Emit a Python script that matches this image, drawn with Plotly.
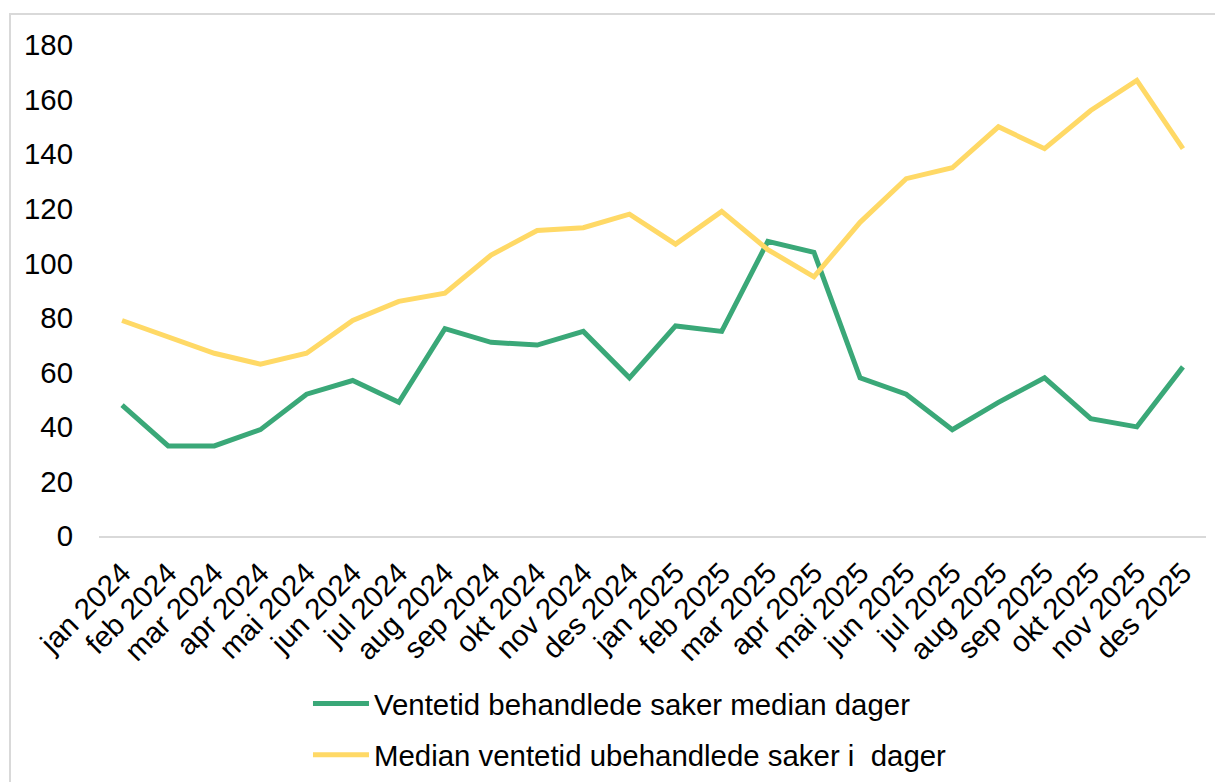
import plotly.graph_objects as go

months = [
    "jan 2024", "feb 2024", "mar 2024", "apr 2024", "mai 2024", "jun 2024",
    "jul 2024", "aug 2024", "sep 2024", "okt 2024", "nov 2024", "des 2024",
    "jan 2025", "feb 2025", "mar 2025", "apr 2025", "mai 2025", "jun 2025",
    "jul 2025", "aug 2025", "sep 2025", "okt 2025", "nov 2025", "des 2025",
]
behandlede = [48, 33, 33, 39, 52, 57, 49, 76, 71, 70, 75, 58,
              77, 75, 108, 104, 58, 52, 39, 49, 58, 43, 40, 62]
ubehandlede = [79, 73, 67, 63, 67, 79, 86, 89, 103, 112, 113, 118,
               107, 119, 105, 95, 115, 131, 135, 150, 142, 156, 167, 142]
y_ticks = [0, 20, 40, 60, 80, 100, 120, 140, 160, 180]

FONT = "Liberation Sans, Arial, sans-serif"
FS = 29.4

fig = go.Figure()
fig.add_trace(go.Scatter(
    x=months, y=behandlede, mode="lines",
    name="Ventetid behandlede saker median dager",
    line=dict(color="#3AA878", width=5),
    legendgroup="a",
))
fig.add_trace(go.Scatter(
    x=months, y=ubehandlede, mode="lines",
    name="Median ventetid ubehandlede saker i  dager",
    line=dict(color="#FFD966", width=5),
    legendgroup="b",
))

# light frame around the whole chart, as in the spreadsheet export
fig.add_shape(
    type="rect", xref="paper", yref="paper",
    x0=-0.0804, x1=1.03, y0=-0.7, y1=1.0631,
    line=dict(color="#d9d9d9", width=2), layer="below",
)

# page body has an 8px margin, so the figure is sized to fill the rest
fig.update_layout(
    width=1215, height=774,
    paper_bgcolor="white", plot_bgcolor="white",
    margin=dict(l=91, r=17, t=37, b=246, autoexpand=False),
    font=dict(family=FONT, size=FS, color="black"),
    showlegend=True,
    legend=dict(
        xref="container", yref="container",
        x=0.2469, y=0.1344, xanchor="left", yanchor="top",
        orientation="v", tracegroupgap=10, itemwidth=56,
        font=dict(size=FS, color="black"),
        bgcolor="rgba(0,0,0,0)",
    ),
    xaxis=dict(
        type="category", range=[-0.5, 23.5], showgrid=False, zeroline=False,
        showline=True, linecolor="#d9d9d9", linewidth=2,
        tickangle=-45, ticks="", ticklabelstandoff=6, automargin=False,
        tickfont=dict(size=FS, color="black"),
    ),
    yaxis=dict(
        range=[0, 180], tickvals=y_ticks, showgrid=False, zeroline=False,
        showline=False, ticks="", ticklabelstandoff=25, automargin=False,
        tickfont=dict(size=FS, color="black"),
    ),
)

fig.write_html("out.html")
